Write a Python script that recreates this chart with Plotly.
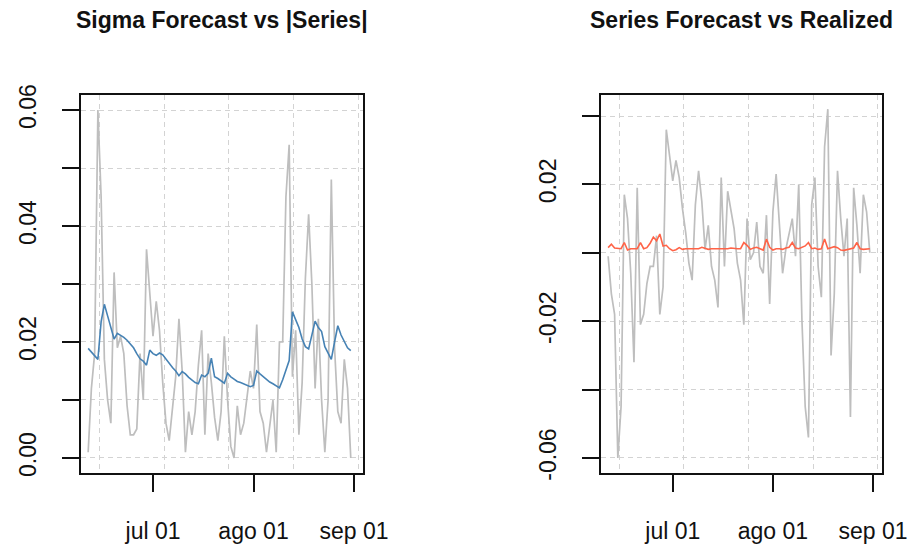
import pandas as pd
import plotly.graph_objects as go

# Daily observations, 11 Jun - 31 Aug
dates = pd.date_range("2021-06-11", "2021-08-31", freq="D")

# Realized series
series = [
    -0.001, -0.012, -0.018, -0.060, -0.045, 0.017, 0.010, -0.006, -0.032, 0.019,
    -0.021, -0.018, -0.009, -0.004, -0.004, 0.005, -0.018, -0.010, 0.036, 0.028,
    0.021, 0.027, 0.022, 0.013, 0.006, -0.003, -0.008, 0.014, 0.024, 0.015,
    0.001, 0.008, -0.004, -0.008, -0.016, 0.022, -0.004, 0.018, 0.013, 0.007,
    -0.003, -0.008, -0.021, 0.010, -0.002, 0.000, 0.009, -0.004, -0.006, 0.011,
    -0.015, 0.012, 0.023, 0.008, -0.006, 0.001, 0.006, 0.010, -0.001, 0.020,
    -0.020, -0.045, -0.054, 0.014, 0.022, -0.004, -0.013, 0.031, 0.042, -0.030,
    -0.012, 0.024, 0.010, -0.001, 0.010, -0.048, 0.019, 0.008, -0.006, 0.017,
    0.012, 0.000,
]

# Rolling sigma forecast
sigma = [
    0.0189, 0.0182, 0.0175, 0.0170, 0.0235, 0.0265, 0.0245, 0.0225, 0.0205, 0.0215,
    0.0212, 0.0208, 0.0203, 0.0197, 0.0190, 0.0180, 0.0171, 0.0167, 0.0160, 0.0186,
    0.0180, 0.0177, 0.0181, 0.0178, 0.0170, 0.0163, 0.0156, 0.0150, 0.0142, 0.0149,
    0.0145, 0.0139, 0.0135, 0.0130, 0.0128, 0.0143, 0.0140, 0.0146, 0.0172, 0.0140,
    0.0137, 0.0133, 0.0129, 0.0146, 0.0140, 0.0136, 0.0132, 0.0130, 0.0128, 0.0125,
    0.0123, 0.0125, 0.0150, 0.0145, 0.0140, 0.0135, 0.0131, 0.0128, 0.0124, 0.0121,
    0.0135, 0.0150, 0.0168, 0.0252, 0.0240, 0.0225, 0.0205, 0.0192, 0.0188, 0.0215,
    0.0236, 0.0225, 0.0218, 0.0192, 0.0182, 0.0170, 0.0200, 0.0228, 0.0212, 0.0200,
    0.0190, 0.0185,
]

# Rolling mean (series) forecast
mean_fc = [
    0.0015, 0.0025, 0.0014, 0.0012, 0.0012, 0.0030, 0.0008, 0.0012, 0.0012, 0.0012,
    0.0030, 0.0012, 0.0015, 0.0028, 0.0046, 0.0035, 0.0055, 0.0020, 0.0022, 0.0012,
    0.0006, 0.0009, 0.0015, 0.0010, 0.0012, 0.0012, 0.0010, 0.0012, 0.0012, 0.0016,
    0.0012, 0.0010, 0.0012, 0.0012, 0.0010, 0.0012, 0.0012, 0.0012, 0.0014, 0.0012,
    0.0012, 0.0012, 0.0030, 0.0022, 0.0010, 0.0014, 0.0016, 0.0012, 0.0008, 0.0040,
    0.0016, 0.0008, 0.0012, 0.0012, 0.0010, 0.0014, 0.0016, 0.0030, 0.0014, 0.0012,
    0.0016, 0.0020, 0.0030, 0.0012, 0.0014, 0.0010, 0.0012, 0.0040, 0.0012, 0.0016,
    0.0018, 0.0015, 0.0008, 0.0007, 0.0010, 0.0012, 0.0014, 0.0030, 0.0012, 0.0010,
    0.0012, 0.0012,
]

abs_series = [abs(v) for v in series]

# Axis tick labels
x_tick_dates = ["2021-07-01", "2021-08-01", "2021-09-01"]
x_tick_text = ["jul 01", "ago 01", "sep 01"]
x_grid_dates = ["2021-06-14 10:00", "2021-07-04 10:00", "2021-07-24 10:00",
                "2021-08-13 10:00", "2021-09-02 10:00"]
left_y_ticks = [0.00, 0.01, 0.02, 0.03, 0.04, 0.05, 0.06]
left_y_text = ["0.00", "", "0.02", "", "0.04", "", "0.06"]
right_y_ticks = [-0.06, -0.04, -0.02, 0.00, 0.02, 0.04]
right_y_text = ["-0.06", "", "-0.02", "", "0.02", ""]

W, H = 913, 550
GREY = "#BEBEBE"
GRID = "#D3D3D3"
FONT = "Liberation Sans, Arial, sans-serif"

fig = go.Figure()
fig.add_trace(go.Scatter(x=dates, y=abs_series, mode="lines",
                         line=dict(color=GREY, width=1.7), xaxis="x", yaxis="y"))
fig.add_trace(go.Scatter(x=dates, y=sigma, mode="lines",
                         line=dict(color="#4682B4", width=1.6), xaxis="x", yaxis="y"))
fig.add_trace(go.Scatter(x=dates, y=series, mode="lines",
                         line=dict(color=GREY, width=1.7), xaxis="x2", yaxis="y2"))
fig.add_trace(go.Scatter(x=dates, y=mean_fc, mode="lines",
                         line=dict(color="#FF6347", width=1.6), xaxis="x2", yaxis="y2"))

x_range = ["2021-06-08 19:00", "2021-09-03 18:30"]
y_dom = [1 - 473 / H, 1 - 95 / H]

def xaxis(dom, anchor):
    return dict(
        domain=dom, anchor=anchor, type="date", range=x_range, automargin=False,
        tickmode="array", tickvals=x_tick_dates, ticktext=x_tick_text,
        ticks="outside", ticklen=17, tickwidth=2, tickcolor="#111",
        showline=True, linecolor="#111", linewidth=2, mirror=True,
        showgrid=False, zeroline=False, ticklabelstandoff=19,
        tickfont=dict(family=FONT, size=23, color="#111"),
        minor=dict(tickmode="array", tickvals=x_grid_dates, ticklen=0,
                   showgrid=True, gridcolor=GRID, griddash="5px,4px", gridwidth=1.2),
    )

def yaxis(rng, vals, text, anchor):
    return dict(
        domain=y_dom, anchor=anchor, range=rng, automargin=False,
        tickmode="array", tickvals=vals, ticktext=text, tickangle=-90,
        ticks="outside", ticklen=17, tickwidth=2, tickcolor="#111",
        showline=True, linecolor="#111", linewidth=2, mirror=True,
        showgrid=True, gridcolor=GRID, griddash="5px,4px", gridwidth=1.2,
        zeroline=False, ticklabelstandoff=17,
        tickfont=dict(family=FONT, size=23, color="#111"),
    )

fig.update_layout(
    width=W, height=H, showlegend=False,
    margin=dict(l=0, r=0, t=0, b=0),
    paper_bgcolor="white", plot_bgcolor="white",
    xaxis=xaxis([81 / W, 363 / W], "y"),
    yaxis=yaxis([-0.00259, 0.06259], left_y_ticks, left_y_text, "x"),
    xaxis2=xaxis([601 / W, 882 / W], "y2"),
    yaxis2=yaxis([-0.06439, 0.04614], right_y_ticks, right_y_text, "x2"),
    annotations=[
        dict(text="<b>Sigma Forecast vs |Series|</b>", x=222 / W, y=1 - 20 / H,
             xref="paper", yref="paper", xanchor="center", yanchor="middle",
             showarrow=False, font=dict(family=FONT, size=23, color="#111")),
        dict(text="<b>Series Forecast vs Realized</b>", x=741 / W, y=1 - 20 / H,
             xref="paper", yref="paper", xanchor="center", yanchor="middle",
             showarrow=False, font=dict(family=FONT, size=23, color="#111")),
    ],
)

fig.write_html("out.html")
